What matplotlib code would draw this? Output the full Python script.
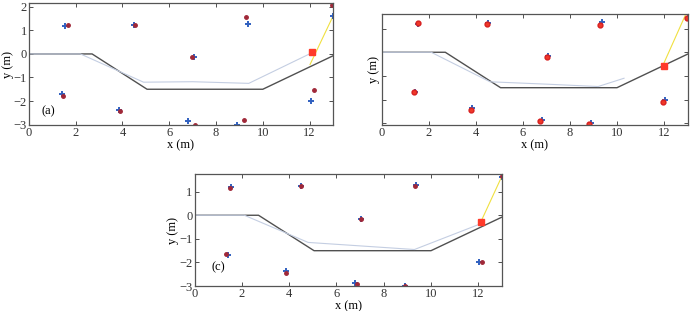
"""
Landmark map comparison: true vs estimated positions, three panels
"""

import matplotlib
matplotlib.use("Agg")
import matplotlib.pyplot as plt
import numpy as np

plt.rcParams["font.family"] = ["Liberation Serif", "DejaVu Serif"]
plt.rcParams["mathtext.fontset"] = "stix"

# wall profile (true)
wall_x = [0, 2.7, 5.05, 10.0, 13.0]
wall_y = [0, 0, -1.5, -1.5, -0.08]

# true landmarks (blue +)
lm_x = [1.55, 4.5, 7.05, 9.35, 1.4, 3.85, 6.8, 8.9, 12.05, 13.0]
lm_y = [1.2, 1.22, -0.15, 1.28, -1.7, -2.38, -2.85, -3.0, -2.0, 1.6]

# panel (a) estimates
a_x = [1.65, 4.55, 6.97, 9.27, 1.45, 3.9, 7.1, 9.2, 12.2, 12.95]
a_y = [1.25, 1.22, -0.15, 1.57, -1.78, -2.43, -3.0, -2.8, -1.53, 2.07]
a_robot = (12.12, 0.08)
a_sensor = ([12.02, 13.0], [-0.45, 1.6])
a_est_x = [0, 2.2, 4.9, 7.0, 9.4, 12.1]
a_est_y = [0, 0, -1.2, -1.18, -1.25, 0.05]

# panel (b) estimates
b_x = [1.55, 4.47, 7.02, 9.27, 1.38, 3.8, 6.72, 8.82, 11.97, 12.97]
b_y = [1.22, 1.2, -0.2, 1.15, -1.7, -2.45, -2.9, -3.05, -2.1, 1.45]
b_robot = (12.02, -0.57)
b_sensor = ([12.0, 12.92], [-0.45, 1.6])
b_est_x = [0, 2.1, 4.6, 7.0, 9.2, 10.3]
b_est_y = [0, 0, -1.25, -1.35, -1.45, -1.1]

# panel (c) estimates
c_x = [1.5, 4.5, 7.05, 9.33, 1.33, 3.85, 6.85, 8.9, 12.15, 13.0]
c_y = [1.15, 1.22, -0.15, 1.25, -1.62, -2.45, -2.9, -3.0, -1.98, 1.65]
c_robot = (12.1, -0.3)
c_sensor = ([12.1, 13.0], [-0.3, 1.65])
c_est_x = [0, 2.1, 4.8, 9.3, 12.0]
c_est_y = [0, 0, -1.15, -1.45, -0.4]


def draw_panel(ax, pts, robot, sensor, est_path, ylim, label=None,
               label_pos=None, ylabels=True, big_red=False):
    ax.plot(wall_x, wall_y, color="#505050", lw=1.0)
    ax.plot(est_path[0], est_path[1], color="#c4cee2", lw=0.8)
    ax.plot(sensor[0], sensor[1], color="#f0e040", lw=0.8)
    ax.plot(lm_x, lm_y, "+", color="#3060c0", ms=4.5, mew=1.4)
    if big_red:
        ax.plot(pts[0], pts[1], "o", color="#f03828", ms=3.5, mec="#d82020")
    else:
        ax.plot(pts[0], pts[1], "o", color="#a02838", ms=2.5, mec="#a02838")
    ax.plot([robot[0]], [robot[1]], "s", color="#ff3a2a", ms=5)
    ax.set_xticks(np.arange(0, 13, 2))
    ax.set_yticks([-3, -2, -1, 0, 1, 2])
    ax.set_xlim(0, 13)
    ax.set_ylim(*ylim)
    ax.tick_params(direction="in", top=True, right=True, labelsize=9,
                   length=3, width=0.6, pad=1.5, colors="#333333")
    if not ylabels:
        ax.set_yticklabels([])
    for s in ax.spines.values():
        s.set_color("#555555")
        s.set_linewidth(0.9)
    ax.set_xlabel("x (m)", fontsize=9, labelpad=0)
    ax.set_ylabel("y (m)", fontsize=9, labelpad=0)
    if label:
        ax.text(label_pos[0], label_pos[1], label, fontsize=9, va="center")


def main():
    fig = plt.figure(figsize=(6.98, 3.11), dpi=100)
    ax_a = fig.add_axes([0.0415, 0.598, 0.4355, 0.392])
    ax_b = fig.add_axes([0.547, 0.598, 0.438, 0.357])
    ax_c = fig.add_axes([0.279, 0.080, 0.44, 0.360])

    draw_panel(ax_a, (a_x, a_y), a_robot, a_sensor, (a_est_x, a_est_y),
               (-3.02, 2.16), "(a)", (0.55, -2.45))
    draw_panel(ax_b, (b_x, b_y), b_robot, b_sensor, (b_est_x, b_est_y),
               (-3.08, 1.62), ylabels=False, big_red=True)
    draw_panel(ax_c, (c_x, c_y), c_robot, c_sensor, (c_est_x, c_est_y),
               (-3.0, 1.74), "(c)", (0.7, -2.2))

    fig.savefig("out.png", dpi=100)
    plt.close(fig)


if __name__ == "__main__":
    main()
